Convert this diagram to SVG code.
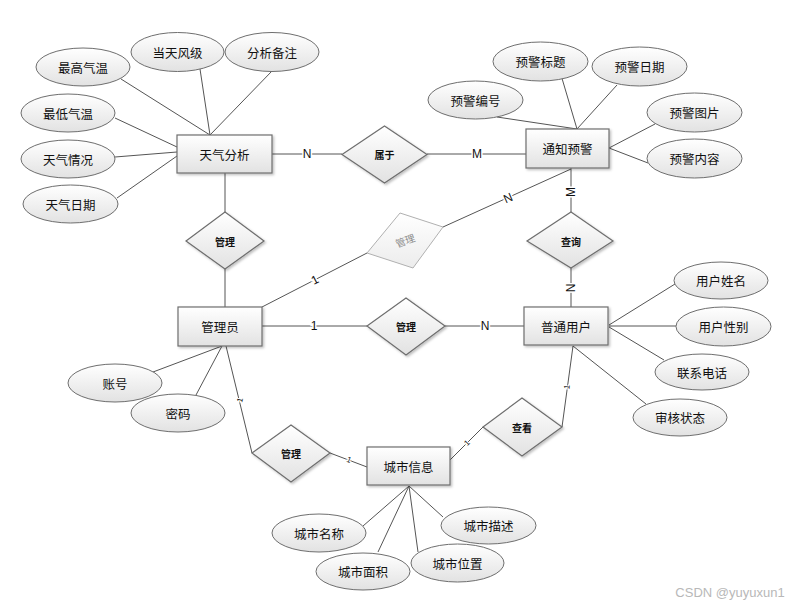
<svg xmlns="http://www.w3.org/2000/svg" width="793" height="605" viewBox="0 0 793 605">
<defs>
<linearGradient id="g" x1="0" y1="0" x2="0" y2="1">
<stop offset="0" stop-color="#ffffff"/>
<stop offset="1" stop-color="#e2e2e2"/>
</linearGradient>
<linearGradient id="gl" x1="0" y1="0" x2="0" y2="1">
<stop offset="0" stop-color="#ffffff"/>
<stop offset="1" stop-color="#ececec"/>
</linearGradient>
<filter id="sh" x="-10%" y="-10%" width="130%" height="140%">
<feDropShadow dx="1.5" dy="1.5" stdDeviation="0.8" flood-color="#000" flood-opacity="0.25"/>
</filter>
</defs>
<style>
.ent rect{fill:url(#g);stroke:#6e6e6e;stroke-width:1.2;filter:url(#sh)}
.att ellipse{fill:url(#g);stroke:#6e6e6e;stroke-width:1}
.rel polygon{fill:url(#g);stroke:#6e6e6e;stroke-width:1.2;filter:url(#sh)}
text{font-family:"Noto Sans CJK SC","Liberation Sans",sans-serif;text-anchor:middle;dominant-baseline:central;fill:#111}
.t{font-size:12.5px}
.r{font-size:10px;font-weight:bold}
.lbl{font-family:"Liberation Sans",sans-serif;font-size:12px;paint-order:stroke;stroke:#fff;stroke-width:3px}
.sm{font-family:"Liberation Sans",sans-serif;font-size:8px;paint-order:stroke;stroke:#fff;stroke-width:2px}
#connectors line{stroke:#555;stroke-width:1}
</style>
<rect width="793" height="605" fill="#fff"/>

<g id="connectors">
<!-- 天气分析 attributes -->
<line x1="121" y1="79" x2="210" y2="135"/>
<line x1="200" y1="69" x2="210" y2="135"/>
<line x1="272" y1="71" x2="210" y2="135"/>
<line x1="115" y1="118" x2="177" y2="147"/>
<line x1="115" y1="157" x2="177" y2="152"/>
<line x1="117" y1="198" x2="177" y2="156"/>
<!-- 天气分析 - 属于 - 通知预警 -->
<line x1="272" y1="154" x2="342" y2="154"/>
<line x1="427" y1="154" x2="526" y2="154"/>
<!-- 通知预警 attributes -->
<line x1="497" y1="117" x2="577" y2="129"/>
<line x1="561" y1="75" x2="577" y2="129"/>
<line x1="617" y1="85" x2="577" y2="129"/>
<line x1="655" y1="124" x2="609" y2="148"/>
<line x1="648" y1="163" x2="609" y2="148"/>
<!-- 通知预警 - 查询 - 普通用户 -->
<line x1="571" y1="168" x2="571" y2="212"/>
<line x1="571" y1="268" x2="571" y2="307"/>
<!-- 通知预警 - grey 管理 - 管理员 -->
<line x1="443" y1="227" x2="571" y2="169"/>
<line x1="367" y1="253" x2="262" y2="307"/>
<!-- 天气分析 - 管理 - 管理员 -->
<line x1="225" y1="173" x2="225" y2="212"/>
<line x1="225" y1="269" x2="225" y2="307"/>
<!-- 管理员 - 管理 - 普通用户 -->
<line x1="262" y1="326" x2="367" y2="326"/>
<line x1="445" y1="326" x2="524" y2="326"/>
<!-- 普通用户 attributes -->
<line x1="675" y1="284" x2="609" y2="325"/>
<line x1="676" y1="326" x2="609" y2="326"/>
<line x1="664" y1="360" x2="609" y2="327"/>
<line x1="646" y1="404" x2="573" y2="346"/>
<!-- 管理员 attributes -->
<line x1="153" y1="372" x2="222" y2="346"/>
<line x1="196" y1="395" x2="222" y2="346"/>
<!-- 管理员 - 管理 - 城市信息 -->
<line x1="226" y1="346" x2="252" y2="453"/>
<line x1="330" y1="453" x2="367" y2="467"/>
<!-- 普通用户 - 查看 - 城市信息 -->
<line x1="573" y1="346" x2="562" y2="427"/>
<line x1="483" y1="427" x2="450" y2="460"/>
<!-- 城市信息 attributes -->
<line x1="409" y1="486" x2="363" y2="526"/>
<line x1="409" y1="486" x2="378" y2="552"/>
<line x1="409" y1="486" x2="418" y2="552"/>
<line x1="409" y1="486" x2="443" y2="517"/>

<!-- cardinality labels -->
<text class="lbl" x="307" y="154">N</text>
<text class="lbl" x="477" y="154">M</text>
<text class="lbl" x="571" y="192" transform="rotate(-90 571 192)">M</text>
<text class="lbl" x="571" y="288" transform="rotate(-90 571 288)">N</text>
<text class="lbl" x="508" y="198" transform="rotate(-24 508 198)">N</text>
<text class="lbl" x="315" y="280" transform="rotate(-27 315 280)">1</text>
<text class="lbl" x="314" y="326">1</text>
<text class="lbl" x="485" y="326">N</text>
<text class="sm" x="240" y="400" transform="rotate(-76 240 400)">1</text>
<text class="sm" x="349" y="460" transform="rotate(21 349 460)">1</text>
<text class="sm" x="467" y="443" transform="rotate(-45 467 443)">1</text>
<text class="sm" x="567" y="387" transform="rotate(-82 567 387)">1</text>
</g>

<!-- entities -->
<g id="e_weather" class="ent"><rect x="177" y="135" width="95" height="38"/><text class="t" x="224.5" y="154">天气分析</text></g>
<g id="e_notice" class="ent"><rect x="526" y="129" width="83" height="39"/><text class="t" x="567.5" y="148.5">通知预警</text></g>
<g id="e_admin" class="ent"><rect x="178" y="307" width="84" height="39"/><text class="t" x="220" y="326.5">管理员</text></g>
<g id="e_user" class="ent"><rect x="524" y="307" width="84" height="38"/><text class="t" x="566" y="326">普通用户</text></g>
<g id="e_city" class="ent"><rect x="367" y="447" width="83" height="38"/><text class="t" x="408.5" y="466">城市信息</text></g>

<!-- relationships -->
<g id="r_belong" class="rel"><polygon points="384.5,126 427,154.5 384.5,183 342,154.5"/><text class="r" x="384.5" y="154.5">属于</text></g>
<g id="r_manage1" class="rel"><polygon points="225,212 264,241 225,269 186,241"/><text class="r" x="225" y="241">管理</text></g>
<g id="r_manage_grey"><polygon points="400,213 443,227 413,268 367,253" fill="url(#gl)" stroke="#b0b0b0" stroke-width="1"/><text x="405" y="240" font-size="10" fill="#8a8a8a" style="fill:#8a8a8a" transform="rotate(-20 405 240)">管理</text></g>
<g id="r_manage2" class="rel"><polygon points="406,298 445,326 406,355 367,326"/><text class="r" x="406" y="326">管理</text></g>
<g id="r_query" class="rel"><polygon points="571,212 613,241 571,268 527,241"/><text class="r" x="571" y="241">查询</text></g>
<g id="r_manage3" class="rel"><polygon points="291,425 330,453 291,482 252,453"/><text class="r" x="291" y="453">管理</text></g>
<g id="r_view" class="rel"><polygon points="522,398 562,427 522,456 483,427"/><text class="r" x="522" y="427">查看</text></g>

<!-- attributes -->
<g id="a_maxtemp" class="att"><ellipse cx="83" cy="67" rx="47" ry="19"/><text class="t" x="83" y="67">最高气温</text></g>
<g id="a_wind" class="att"><ellipse cx="177.5" cy="52" rx="46.5" ry="19.5"/><text class="t" x="177.5" y="52">当天风级</text></g>
<g id="a_note" class="att"><ellipse cx="272" cy="52" rx="47" ry="19.5"/><text class="t" x="272" y="52">分析备注</text></g>
<g id="a_mintemp" class="att"><ellipse cx="68" cy="113" rx="47" ry="19"/><text class="t" x="68" y="113">最低气温</text></g>
<g id="a_cond" class="att"><ellipse cx="68" cy="159" rx="47" ry="19"/><text class="t" x="68" y="159">天气情况</text></g>
<g id="a_wdate" class="att"><ellipse cx="70.5" cy="204" rx="47.5" ry="19"/><text class="t" x="70.5" y="204">天气日期</text></g>

<g id="a_nid" class="att"><ellipse cx="475.5" cy="100" rx="47.5" ry="19"/><text class="t" x="475.5" y="100">预警编号</text></g>
<g id="a_ntitle" class="att"><ellipse cx="540.5" cy="61.5" rx="47.5" ry="19.5"/><text class="t" x="540.5" y="61.5">预警标题</text></g>
<g id="a_ndate" class="att"><ellipse cx="639.5" cy="66.5" rx="47.5" ry="19.5"/><text class="t" x="639.5" y="66.5">预警日期</text></g>
<g id="a_nimg" class="att"><ellipse cx="694.5" cy="112.5" rx="47.5" ry="19.5"/><text class="t" x="694.5" y="112.5">预警图片</text></g>
<g id="a_ncontent" class="att"><ellipse cx="694.5" cy="158.5" rx="47.5" ry="19.5"/><text class="t" x="694.5" y="158.5">预警内容</text></g>

<g id="a_uname" class="att"><ellipse cx="721" cy="280.5" rx="47" ry="18.5"/><text class="t" x="721" y="280.5">用户姓名</text></g>
<g id="a_usex" class="att"><ellipse cx="723.5" cy="326.5" rx="47.5" ry="19.5"/><text class="t" x="723.5" y="326.5">用户性别</text></g>
<g id="a_phone" class="att"><ellipse cx="702" cy="372" rx="47" ry="18"/><text class="t" x="702" y="372">联系电话</text></g>
<g id="a_status" class="att"><ellipse cx="680" cy="417.5" rx="47" ry="18.5"/><text class="t" x="680" y="417.5">审核状态</text></g>

<g id="a_account" class="att"><ellipse cx="115" cy="383" rx="47" ry="19"/><text class="t" x="115" y="383">账号</text></g>
<g id="a_pwd" class="att"><ellipse cx="178" cy="413" rx="47" ry="19"/><text class="t" x="178" y="413">密码</text></g>

<g id="a_cname" class="att"><ellipse cx="319" cy="533" rx="47" ry="19"/><text class="t" x="319" y="533">城市名称</text></g>
<g id="a_carea" class="att"><ellipse cx="363" cy="571.5" rx="47" ry="18.5"/><text class="t" x="363" y="571.5">城市面积</text></g>
<g id="a_cpos" class="att"><ellipse cx="457.5" cy="563" rx="46.5" ry="19"/><text class="t" x="457.5" y="563">城市位置</text></g>
<g id="a_cdesc" class="att"><ellipse cx="488.5" cy="525.5" rx="47.5" ry="18.5"/><text class="t" x="488.5" y="525.5">城市描述</text></g>

<text x="730" y="592" font-family="Liberation Sans, sans-serif" font-size="13" style="fill:#b8b8b8;font-family:'Liberation Sans',sans-serif">CSDN @yuyuxun1</text>
</svg>
